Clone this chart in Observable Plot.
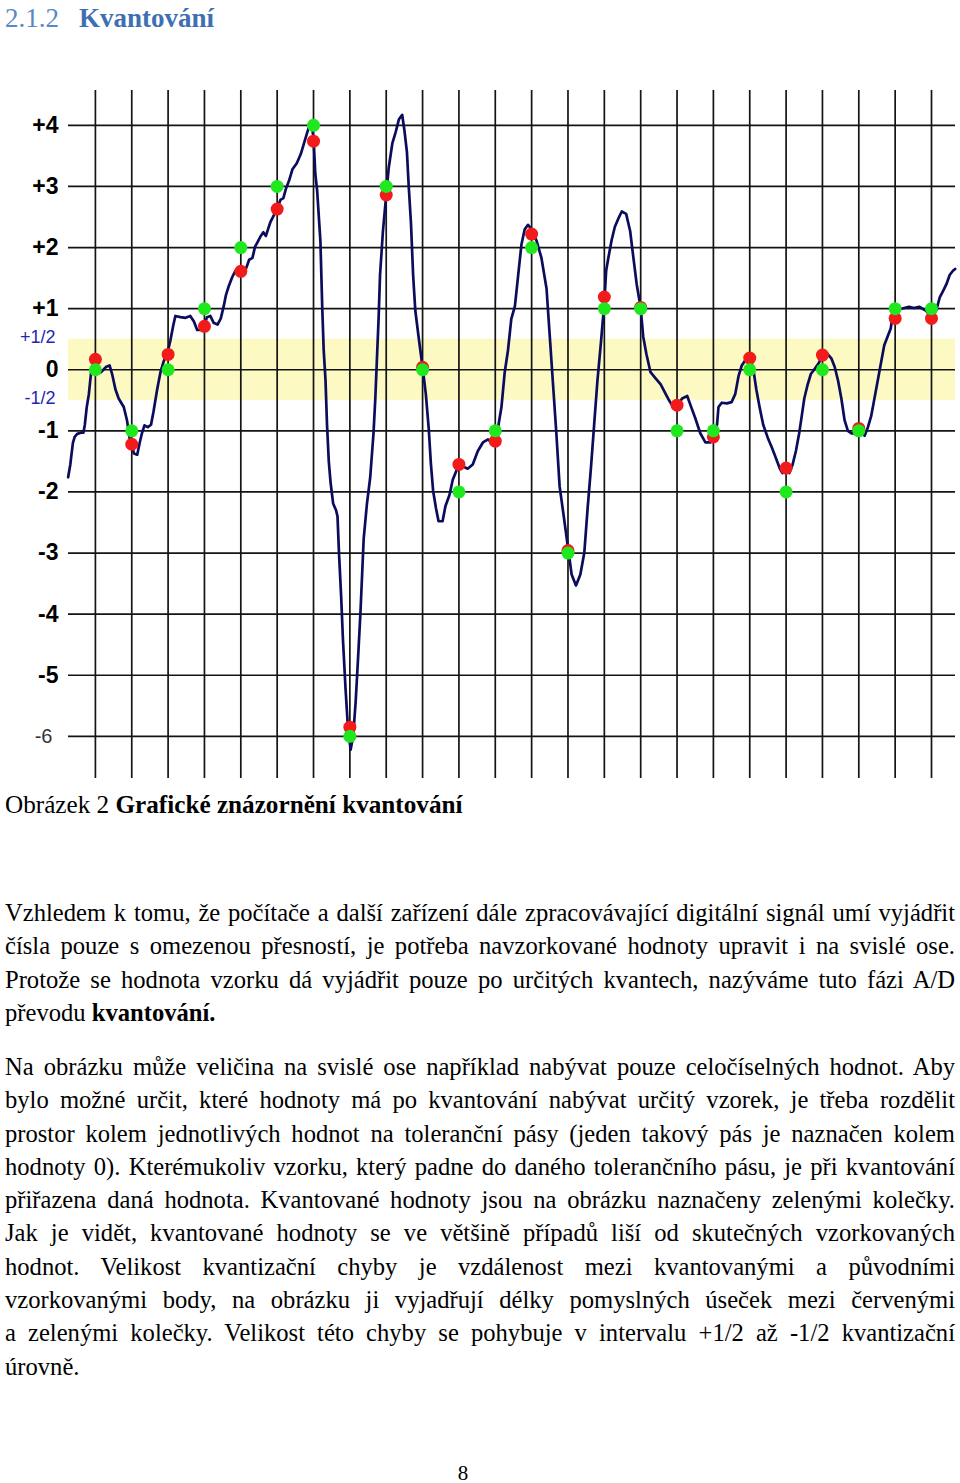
<!DOCTYPE html>
<html><head><meta charset="utf-8">
<script src="https://cdn.jsdelivr.net/npm/d3@7"></script>
<script src="https://cdn.jsdelivr.net/npm/@observablehq/plot@0.6"></script>
<style>
html,body{margin:0;padding:0;background:#fff;}
body{position:relative;width:960px;height:1483px;overflow:hidden;font-family:"Liberation Serif","Times New Roman",serif;color:#000;}
#heading{position:absolute;left:5px;top:2px;font-size:27px;line-height:32px;color:#4f81bd;white-space:nowrap;}
#heading .num{position:absolute;left:0;top:0;color:#5b87c6;}
#heading .ttl{position:absolute;left:74px;top:0;font-weight:bold;color:#3f6fb3;}
#chart{position:absolute;left:0;top:50px;}
.para{position:absolute;left:5px;width:950px;font-size:24.6px;line-height:33.3px;}
.para div{text-align:justify;text-align-last:justify;}
.para div.last{text-align-last:left;}
#caption{position:absolute;left:5px;top:788px;font-size:25.2px;line-height:33.3px;white-space:nowrap;}
#pagenum{position:absolute;left:0;width:926px;text-align:center;top:1461px;font-size:21px;line-height:24px;}
</style>
</head><body>
<div id="heading"><span class="num">2.1.2</span><span class="ttl">Kvantování</span></div>
<div id="chart"></div>
<div id="caption">Obrázek 2 <b>Grafické znázornění kvantování</b></div>
<div class="para" style="top:896px">
<div>Vzhledem k tomu, že počítače a další zařízení dále zpracovávající digitální signál umí vyjádřit</div>
<div>čísla pouze s omezenou přesností, je potřeba navzorkované hodnoty upravit i na svislé ose.</div>
<div>Protože se hodnota vzorku dá vyjádřit pouze po určitých kvantech, nazýváme tuto fázi A/D</div>
<div class="last">převodu <b>kvantování.</b></div>
</div>
<div class="para" style="top:1050px">
<div>Na obrázku může veličina na svislé ose například nabývat pouze celočíselných hodnot. Aby</div>
<div>bylo možné určit, které hodnoty má po kvantování nabývat určitý vzorek, je třeba rozdělit</div>
<div>prostor kolem jednotlivých hodnot na toleranční pásy (jeden takový pás je naznačen kolem</div>
<div>hodnoty 0). Kterémukoliv vzorku, který padne do daného tolerančního pásu, je při kvantování</div>
<div>přiřazena daná hodnota. Kvantované hodnoty jsou na obrázku naznačeny zelenými kolečky.</div>
<div>Jak je vidět, kvantované hodnoty se ve většině případů liší od skutečných vzorkovaných</div>
<div>hodnot. Velikost kvantizační chyby je vzdálenost mezi kvantovanými a původními</div>
<div>vzorkovanými body, na obrázku ji vyjadřují délky pomyslných úseček mezi červenými</div>
<div>a zelenými kolečky. Velikost této chyby se pohybuje v intervalu +1/2 až -1/2 kvantizační</div>
<div class="last">úrovně.</div>
</div>
<div id="pagenum">8</div>
<script>
// ---- data ----
const sampleIdx = [0,1,2,3,4,5,6,7,8,9,10,11,12,13,14,15,16,17,18,19,20,21,22,23];
const actualValues = [0.17,-1.22,0.25,0.71,1.61,2.63,3.74,-5.85,2.86,0.04,-1.55,-1.17,2.22,-2.96,1.19,1.02,-0.58,-1.1,0.19,-1.61,0.24,-0.96,0.84,0.84];
const quantValues = [0,-1,0,1,2,3,4,-6,3,0,-2,-1,2,-3,1,1,-1,-1,0,-2,0,-1,1,1];
const levels = [4,3,2,1,0,-1,-2,-3,-4,-5,-6];
const levelLabels = ["+4","+3","+2","+1","0","-1","-2","-3","-4","-5","-6"];
const halfValues = [0.5,-0.5];
const halfLabels = ["+1/2","-1/2"];
const bandLimits = [-0.5, 0.5];
const xDomain = [-0.74, 23.66];
const yDomain = [-6.69, 4.57];
const curveT = [-0.75,-0.69,-0.62,-0.57,-0.5,-0.4,-0.33,-0.29,-0.24,-0.18,-0.12,-0.06,0,0.07,0.15,0.22,0.3,0.39,0.46,0.55,0.64,0.78,0.87,0.94,1.0,1.06,1.15,1.22,1.28,1.35,1.44,1.53,1.6,1.7,1.79,1.88,1.97,2.06,2.14,2.2,2.34,2.48,2.61,2.71,2.8,2.89,2.98,3.07,3.16,3.25,3.36,3.45,3.53,3.59,3.67,3.76,3.85,3.99,4.14,4.23,4.32,4.39,4.46,4.55,4.62,4.69,4.75,4.81,4.87,4.96,5.0,5.09,5.17,5.24,5.33,5.42,5.54,5.65,5.74,5.83,5.88,5.95,6.0,6.05,6.1,6.19,6.24,6.28,6.33,6.37,6.42,6.47,6.54,6.62,6.66,6.7,6.76,6.81,6.88,6.94,7.02,7.09,7.16,7.22,7.29,7.38,7.47,7.56,7.65,7.7,7.74,7.79,7.83,7.91,8.0,8.07,8.17,8.26,8.35,8.44,8.5,8.57,8.62,8.68,8.74,8.8,8.89,9.0,9.09,9.17,9.23,9.29,9.37,9.44,9.55,9.63,9.74,9.83,10.0,10.1,10.24,10.38,10.52,10.66,10.8,10.94,11.0,11.07,11.17,11.26,11.35,11.44,11.54,11.63,11.72,11.81,11.9,12.0,12.13,12.27,12.41,12.5,12.59,12.68,12.77,12.87,13.0,13.1,13.22,13.34,13.45,13.54,13.63,13.72,13.81,13.91,14.0,14.05,14.11,14.2,14.29,14.39,14.48,14.6,14.71,14.8,14.89,15.0,15.07,15.16,15.27,15.41,15.55,15.69,15.78,15.86,16.0,16.14,16.28,16.37,16.5,16.64,16.78,16.92,17.0,17.1,17.14,17.23,17.37,17.5,17.6,17.69,17.78,17.92,18.0,18.09,18.18,18.27,18.37,18.5,18.6,18.69,18.83,18.9,19.0,19.09,19.18,19.27,19.36,19.43,19.5,19.59,19.68,19.77,19.9,20.0,20.12,20.25,20.34,20.43,20.52,20.61,20.7,20.79,20.93,21.0,21.16,21.25,21.34,21.43,21.52,21.61,21.7,21.79,21.88,21.93,22.0,22.11,22.25,22.38,22.52,22.66,22.84,23.0,23.13,23.23,23.32,23.41,23.5,23.59,23.65];
const curveV = [-1.76,-1.55,-1.2,-1.1,-1.05,-1.03,-1.03,-0.9,-0.62,-0.4,-0.05,0.08,0.1,-0.05,-0.04,0.0,0.05,0.07,-0.07,-0.32,-0.47,-0.61,-0.83,-1.12,-1.22,-1.37,-1.39,-1.19,-1.04,-0.91,-0.94,-0.9,-0.68,-0.32,-0.04,0.14,0.25,0.47,0.72,0.88,0.86,0.85,0.88,0.79,0.65,0.65,0.7,0.86,0.88,0.77,0.74,0.84,1.04,1.22,1.37,1.51,1.62,1.62,1.65,1.8,1.83,2.01,2.09,2.19,2.25,2.19,2.3,2.41,2.48,2.59,2.63,2.78,2.81,2.96,3.1,3.28,3.38,3.53,3.71,3.89,3.98,4.0,3.8,3.2,2.93,2.1,1.02,0.32,-0.17,-0.88,-1.5,-1.85,-2.19,-2.3,-2.4,-2.99,-3.71,-4.42,-5.21,-5.79,-6.22,-6.0,-5.43,-4.78,-3.99,-2.77,-2.19,-1.76,-1.04,-0.47,0.11,0.83,1.55,2.27,2.86,3.31,3.71,3.89,4.1,4.17,3.92,3.56,2.99,2.41,1.55,0.97,0.54,0.04,-0.4,-0.97,-1.55,-1.98,-2.27,-2.48,-2.48,-2.23,-2.05,-1.8,-1.55,-1.58,-1.62,-1.55,-1.33,-1.19,-1.14,-1.22,-1.19,-0.97,-0.61,-0.04,0.32,0.83,1.04,1.55,2.05,2.3,2.37,2.3,2.12,1.83,1.33,0.54,-0.25,-1.04,-1.91,-2.34,-2.91,-3.35,-3.53,-3.35,-2.99,-2.27,-1.62,-0.9,-0.18,0.47,1.1,1.62,1.83,2.12,2.34,2.48,2.59,2.55,2.27,1.83,1.4,1.01,0.54,0.25,-0.04,-0.14,-0.24,-0.4,-0.5,-0.58,-0.6,-0.47,-0.43,-0.58,-0.79,-1.04,-1.19,-1.19,-1.12,-0.9,-0.61,-0.54,-0.55,-0.53,-0.4,-0.11,0.07,0.19,0.17,0.04,-0.32,-0.61,-0.9,-1.12,-1.26,-1.4,-1.62,-1.69,-1.65,-1.69,-1.55,-1.33,-1.04,-0.76,-0.47,-0.25,-0.07,0.0,0.11,0.25,0.27,0.18,0.04,-0.18,-0.47,-0.83,-1.0,-1.04,-1.04,-1.0,-1.08,-0.94,-0.76,-0.47,-0.18,0.11,0.4,0.54,0.68,0.9,0.86,0.99,1.01,1.03,1.01,1.03,0.97,0.86,0.97,1.19,1.29,1.4,1.55,1.62,1.65];

// ---- tables built from the arrays ----
const curve = curveT.map((t, k) => ({t, v: curveV[k]}));
const samples = sampleIdx.map((i, k) => ({i, actual: actualValues[k], quant: quantValues[k]}));
const band = [{lo: bandLimits[0], hi: bandLimits[1], x1: xDomain[0], x2: xDomain[1]}];
const mainLabels = levels.slice(0, 10).map((v, k) => ({v, label: levelLabels[k]}));
const lastLabel = [{v: levels[10], label: levelLabels[10]}];
const halfLab = halfValues.map((v, k) => ({v, label: halfLabels[k]}));

const chart = Plot.plot({
  width: 960,
  height: 735,
  marginTop: 40,
  marginBottom: 7,
  marginLeft: 68,
  marginRight: 5,
  x: {domain: xDomain, axis: null},
  y: {domain: yDomain, axis: null},
  style: {background: "transparent", overflow: "visible"},
  marks: [
    Plot.rect(band, {x1: "x1", x2: "x2", y1: "lo", y2: "hi", fill: "#fcf9c2"}),
    Plot.ruleY(levels, {stroke: "#141414", strokeWidth: 1.7}),
    Plot.ruleX(sampleIdx, {stroke: "#141414", strokeWidth: 1.7}),
    Plot.line(curve, {x: "t", y: "v", stroke: "#0c0c5c", strokeWidth: 2.7, strokeLinejoin: "round"}),
    Plot.dot(samples, {x: "i", y: "actual", r: 6.5, fill: "#f21a1a"}),
    Plot.dot(samples, {x: "i", y: "quant", r: 6.5, fill: "#1fe81f"}),
    Plot.text(mainLabels, {y: "v", text: "label", frameAnchor: "left", dx: -10, textAnchor: "end", fontSize: 23, fontWeight: "bold", fontFamily: "Liberation Sans, Arial, sans-serif", fill: "#000"}),
    Plot.text(lastLabel, {y: "v", text: "label", frameAnchor: "left", dx: -16, textAnchor: "end", fontSize: 20, fontFamily: "Liberation Sans, Arial, sans-serif", fill: "#333"}),
    Plot.text(halfLab, {y: "v", text: "label", frameAnchor: "left", dx: -13, dy: -2, textAnchor: "end", fontSize: 18, fontFamily: "Liberation Sans, Arial, sans-serif", fill: "#2626b0"})
  ]
});
document.getElementById("chart").appendChild(chart);
</script>
</body></html>
